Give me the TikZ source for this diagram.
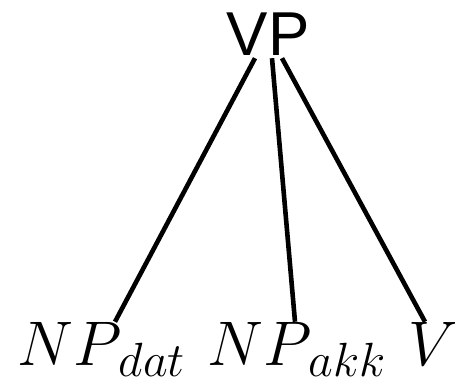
\RequirePackage{fix-cm}
\documentclass[tikz,border=0pt]{standalone}
\usepackage{fontspec}
\newfontfamily\vpfont{Liberation Sans}
\DeclareMathSizes{63}{63}{48}{36}
\begin{document}
\begin{tikzpicture}[x=1pt,y=-1pt,
  edge/.style={line width=4.6pt},
  leaf/.style={inner sep=0pt, anchor=base west, font=\fontsize{63}{70}\selectfont},
  root/.style={inner sep=0pt, anchor=base, font=\vpfont\fontsize{62}{70}\selectfont}]
\useasboundingbox (0,0) rectangle (455,380);
\node[root] (vp) at (268,55) {VP};
\node[leaf] (np1) at (17,365) {$NP_{\kern6pt dat}$};
\node[leaf] (np2) at (207,365) {$NP_{\kern6pt akk}$};
\node[leaf] (v) at (408,365) {$V$};
\draw[edge] ([shift={(-13,3)}]vp.south) -- ([xshift=98pt]np1.north west);
\draw[edge] ([shift={(4,3)}]vp.south) -- ([xshift=88pt]np2.north west);
\draw[edge] ([shift={(14,3)}]vp.south) -- ([xshift=17pt]v.north west);
\end{tikzpicture}
\end{document}
